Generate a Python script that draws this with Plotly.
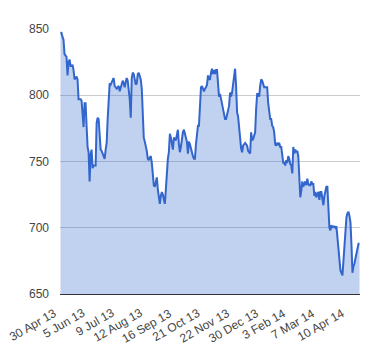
import plotly.graph_objects as go

values = [
    847.5, 847, 844, 842, 831, 830, 829, 815, 825, 827, 822, 822, 823, 819, 812, 813, 814, 812, 797, 797,
    797, 796, 785, 776, 794, 794, 777, 761, 757, 735, 755, 759, 745, 747, 747, 747, 779, 783, 782, 767,
    759, 758, 756, 754, 752, 759, 764, 782, 794, 809, 808, 810, 812, 813, 807, 806, 805, 806, 807,
    803, 806, 808, 811, 809, 806, 810, 813, 811, 805, 797, 783, 813, 817, 816, 812, 808, 809, 816, 817,
    813, 812, 805, 776, 768, 765, 762, 758, 752, 751, 753, 754, 749, 739, 732, 731, 735, 738, 729, 724,
    718, 724, 727, 725, 722, 718, 729, 747, 752, 757, 771, 768, 761, 759, 768, 767, 766, 770, 774, 763,
    757, 761, 767, 772, 774, 770, 766, 765, 756, 765, 763, 759, 756, 754, 752, 752, 763, 772, 777, 777,
    792, 806, 807, 805, 803, 805, 806, 808, 815, 812, 812, 817, 820, 816, 819, 816, 819, 819, 807, 799,
    801, 797, 792, 788, 783, 782, 782, 786, 791, 792, 802, 799, 802, 810, 816, 820, 807, 787, 784, 774,
    767, 760, 757, 762, 763, 764, 763, 762, 758, 757, 756, 772, 766, 767, 770, 772, 790, 801, 801, 799,
    807, 812, 811, 807, 806, 806, 806, 806, 794, 785, 782, 782, 777, 776, 772, 763, 762, 764, 763, 764,
    761, 761, 756, 749, 749, 747, 751, 749, 754, 752, 748, 747, 741, 761, 756, 759, 757, 758, 754, 737,
    723, 728, 735, 731, 733, 735, 732, 737, 733, 732, 732, 735, 733, 733, 724, 727, 723, 726, 727, 721,
    727, 727, 721, 717, 724, 728, 731, 731, 712, 700, 698, 702, 700, 701, 701, 700, 701, 692, 682, 672,
    668, 666, 664, 675, 687, 702, 708, 711, 712, 709, 704, 687, 666, 671, 673, 677, 681, 684, 688, 688,
]

tick_labels = ["30 Apr 13", "5 Jun 13", "9 Jul 13", "12 Aug 13", "16 Sep 13", "21 Oct 13",
               "22 Nov 13", "30 Dec 13", "3 Feb 14", "7 Mar 14", "10 Apr 14"]
tick_index = [1, 30, 59, 87, 116, 144, 173, 202, 230, 259, 288]

y_ticks = [650, 700, 750, 800, 850]

x = list(range(len(values)))

fig = go.Figure()
fig.add_trace(go.Scatter(
    x=x, y=values, mode="lines",
    line=dict(color="#3366cc", width=2),
    fill="tozeroy", fillcolor="rgba(51,102,204,0.3)",
    hoverinfo="skip",
))

font = dict(family="Arial, Liberation Sans, sans-serif", size=12, color="#444")

for xi, lab in zip(tick_index, tick_labels):
    fig.add_annotation(
        x=xi, y=0, xref="x", yref="paper",
        text=lab, showarrow=False, textangle=-30,
        xanchor="right", yanchor="top", yshift=-9,
        font=font,
    )

# the page body has an 8px margin, so the figure is shrunk to fit the 380x360 window
fig.update_layout(
    width=372, height=352,
    margin=dict(l=52, r=20, t=21, b=66),
    paper_bgcolor="white", plot_bgcolor="white",
    showlegend=False,
    font=font,
    xaxis=dict(
        range=[-0.5, len(values) - 0.5],
        showticklabels=False, showgrid=False, zeroline=False,
        showline=True, linecolor="#333", linewidth=1,
        ticks="", automargin=False,
    ),
    yaxis=dict(
        range=[650, 850],
        tickmode="array", tickvals=y_ticks,
        showgrid=True, gridcolor="#ccc", gridwidth=1,
        zeroline=False, showline=False, ticks="",
        tickfont=font, automargin=False, ticklabelstandoff=10,
    ),
)

fig.write_html("out.html")
